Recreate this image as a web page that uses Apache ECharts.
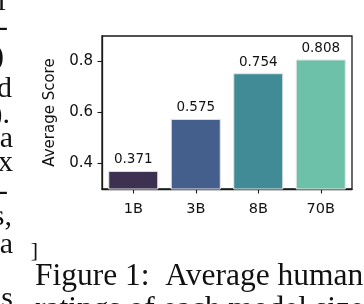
<!DOCTYPE html>
<html>
<head>
<meta charset="utf-8">
<script src="https://cdn.jsdelivr.net/npm/echarts@6/dist/echarts.min.js"></script>
<style>
html,body{margin:0;padding:0;background:#fff;}
#chart{width:364px;height:304px;}
</style>
</head>
<body>
<div id="chart"></div>
<script>
// ---- data ----
const categories = ['1B', '3B', '8B', '70B'];
const scores = [0.371, 0.575, 0.754, 0.808];
const barColors = ['#3d3152', '#445f8b', '#408b95', '#6cc1a8'];
const yTicks = [0.4, 0.6, 0.8];
const yLabel = 'Average Score';
const captionLines = ['Figure 1:  Average human', 'ratings of each model size'];
const sideFragments = ['r', '-', ')', 'd', ').', 'a', 'x', '-', 's,', 'a', 's', ']'];

// ---- layout (positions kept separate from data) ----
const fragPos = [[8,17],[8,43],[4,72],[12,104],[10,130],[13,154],[13,178],[8,207],[12,232],[13,260],[13,314],[38,262]];
const fragSize = [30,30,30,30,30,30,30,30,30,30,30,22];

const serif = '"Liberation Serif", "DejaVu Serif", serif';
const sans = '"DejaVu Sans", sans-serif';
const ink = '#1a1a1a';

const graphics = [];
sideFragments.forEach((t, i) => {
  graphics.push({
    type: 'text',
    x: fragPos[i][0], y: fragPos[i][1],
    style: { text: t, font: fragSize[i] + 'px ' + serif, fill: '#111', textAlign: 'right', textVerticalAlign: 'bottom' }
  });
});
graphics.push({
  type: 'text', x: 35, y: 293,
  style: { text: captionLines[0], font: '31.5px ' + serif, fill: '#111', textAlign: 'left', textVerticalAlign: 'bottom' }
});
graphics.push({
  type: 'text', x: 35, y: 326,
  style: { text: captionLines[1], font: '31.5px ' + serif, fill: '#111', textAlign: 'left', textVerticalAlign: 'bottom' }
});

const chart = echarts.init(document.getElementById('chart'), null, { renderer: 'canvas' });
chart.setOption({
  animation: false,
  backgroundColor: '#fff',
  grid: { left: 102, right: 12, top: 36, bottom: 115, show: true, borderColor: ink, borderWidth: 1.3, containLabel: false },
  xAxis: {
    type: 'category',
    data: categories,
    axisLine: { show: true, lineStyle: { color: ink, width: 1.3 } },
    axisTick: { show: true, alignWithLabel: true, length: 4.5, lineStyle: { color: ink, width: 1.1 } },
    axisLabel: { fontFamily: sans, fontSize: 14.5, color: '#111', margin: 13 }
  },
  yAxis: {
    type: 'value',
    min: 0.3, max: 0.9,
    name: yLabel,
    nameLocation: 'middle',
    nameGap: 44,
    nameTextStyle: { fontFamily: sans, fontSize: 15, color: '#111' },
    splitLine: { show: false },
    axisLine: { show: true, lineStyle: { color: ink, width: 1.3 } },
    axisTick: { show: true, length: 4.5, customValues: yTicks, lineStyle: { color: ink, width: 1.1 } },
    axisLabel: { customValues: yTicks, fontFamily: sans, fontSize: 15, color: '#111', margin: 9,
      formatter: v => Number(v).toFixed(1) }
  },
  series: [{
    type: 'bar',
    barWidth: '80%',
    data: scores.map((v, i) => ({ value: v, itemStyle: { color: barColors[i] } })),
    itemStyle: { borderColor: '#e4e4e4', borderWidth: 1 },
    label: { show: true, position: 'top', distance: 4, fontFamily: sans, fontSize: 13.5, color: '#111',
      formatter: p => p.value.toFixed(3) }
  }],
  graphic: graphics
});
</script>
</body>
</html>
